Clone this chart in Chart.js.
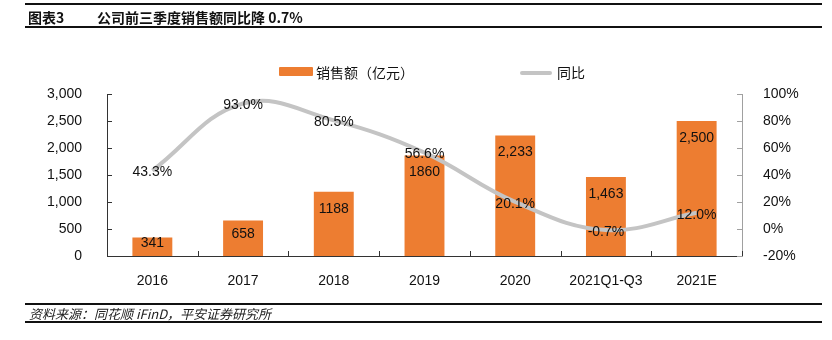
<!DOCTYPE html>
<html>
<head>
<meta charset="utf-8">
<script src="https://cdn.jsdelivr.net/npm/chart.js@4/dist/chart.umd.min.js"></script>
<style>
  body { margin: 0; background: #fff; }
  #wrap { position: relative; width: 832px; height: 340px; overflow: hidden; }
  #chart { position: absolute; left: 0; top: 0; }
  .rule { position: absolute; left: 25px; width: 797px; height: 0; border-top: 2px solid #111; }
  .head { position: absolute; top: 7px; left: 28px; font: bold 14px "Noto Sans CJK SC", sans-serif; color: #111; white-space: nowrap; }
  .head .no { display: inline-block; width: 69px; }
  .foot { position: absolute; top: 304px; left: 29px; font: italic 13px "Noto Sans CJK SC", sans-serif; color: #222; white-space: nowrap; }
  .lg { position: absolute; font: 14px "Noto Sans CJK SC", sans-serif; color: #111; white-space: nowrap; }
  .lg-box { position: absolute; left: 279px; top: 67px; width: 34px; height: 9px; background: #ed7d31; border-radius: 1px; }
  .lg-line { position: absolute; left: 520px; top: 71px; width: 32px; height: 4px; background: #c4c4c4; border-radius: 2px; }
</style>
</head>
<body>
<div id="wrap">
  <canvas id="chart" width="832" height="340"></canvas>
  <div class="rule" style="top:3px"></div>
  <div class="head"><span class="no">图表3</span>公司前三季度销售额同比降 0.7%</div>
  <div class="rule" style="top:26px"></div>
  <div class="lg-box"></div>
  <div class="lg" style="left:316px; top:62px">销售额（亿元）</div>
  <div class="lg-line"></div>
  <div class="lg" style="left:557px; top:62px">同比</div>
  <div class="rule" style="top:303px"></div>
  <div class="foot">资料来源：同花顺 iFinD，平安证券研究所</div>
  <div class="rule" style="top:321px"></div>
</div>
<script>
const years = ['2016', '2017', '2018', '2019', '2020', '2021Q1-Q3', '2021E'];
const sales = [341, 658, 1188, 1860, 2233, 1463, 2500];
const salesText = ['341', '658', '1188', '1860', '2,233', '1,463', '2,500'];
const growth = [43.3, 93.0, 80.5, 56.6, 20.1, -0.7, 12.0];

const labelFont = '14px "Liberation Sans", Arial, sans-serif';

// inward tick marks on all three axes, plus value labels
const marks = {
  id: 'marks',
  afterDatasetsDraw(chart) {
    const { ctx, chartArea: a, scales } = chart;
    ctx.save();
    ctx.lineWidth = 1;

    ctx.strokeStyle = '#333';
    scales.y.ticks.forEach((t, i) => {
      const py = Math.round(scales.y.getPixelForTick(i)) + 0.5;
      ctx.beginPath(); ctx.moveTo(a.left, py); ctx.lineTo(a.left + 5, py); ctx.stroke();
    });
    const step = (a.right - a.left) / years.length;
    for (let i = 1; i <= years.length; i++) {
      const px = Math.round(a.left + step * i) + 0.5;
      ctx.beginPath(); ctx.moveTo(px, a.bottom); ctx.lineTo(px, a.bottom - 5); ctx.stroke();
    }
    ctx.strokeStyle = '#a0a0a0';
    scales.y1.ticks.forEach((t, i) => {
      const py = Math.round(scales.y1.getPixelForTick(i)) + 0.5;
      ctx.beginPath(); ctx.moveTo(a.right, py); ctx.lineTo(a.right - 5, py); ctx.stroke();
    });

    ctx.font = labelFont;
    ctx.fillStyle = '#111';
    ctx.textAlign = 'center';
    ctx.textBaseline = 'middle';
    chart.getDatasetMeta(0).data.forEach((bar, i) => {
      const y = Math.min(bar.y + 17, (bar.y + bar.base) / 2 - 4);
      ctx.fillText(salesText[i], bar.x, y);
    });
    chart.getDatasetMeta(1).data.forEach((pt, i) => {
      ctx.fillText(growth[i].toFixed(1) + '%', pt.x, pt.y + 2);
    });
    ctx.restore();
  }
};

new Chart(document.getElementById('chart'), {
  data: {
    labels: years,
    datasets: [
      {
        type: 'bar',
        label: '销售额（亿元）',
        data: sales,
        backgroundColor: '#ed7d31',
        barPercentage: 0.88,
        categoryPercentage: 0.5,
        yAxisID: 'y',
        order: 1
      },
      {
        type: 'line',
        label: '同比',
        data: growth,
        borderColor: '#c4c4c4',
        borderWidth: 4,
        pointRadius: 0,
        tension: 0.4,
        yAxisID: 'y1',
        order: 0
      }
    ]
  },
  options: {
    responsive: false,
    animation: false,
    layout: { padding: { top: 94, left: 0, right: 0, bottom: 0 } },
    plugins: { legend: { display: false }, tooltip: { enabled: false } },
    scales: {
      x: {
        offset: true,
        grid: { display: false },
        border: { color: '#333', width: 1 },
        ticks: { color: '#111', font: { family: '"Liberation Sans", Arial, sans-serif', size: 14 }, padding: 9 },
        afterFit(s) { s.height = 84; }
      },
      y: {
        position: 'left',
        min: 0, max: 3000,
        grid: { display: false },
        border: { color: '#333', width: 1 },
        ticks: {
          stepSize: 500, padding: 17, color: '#111',
          font: { family: '"Liberation Sans", Arial, sans-serif', size: 14 },
          callback: v => v.toLocaleString('en-US')
        },
        afterFit(s) { s.width = 107; }
      },
      y1: {
        position: 'right',
        min: -20, max: 100,
        grid: { display: false },
        border: { color: '#a0a0a0', width: 1 },
        ticks: {
          stepSize: 20, padding: 13, color: '#111',
          font: { family: '"Liberation Sans", Arial, sans-serif', size: 14 },
          callback: v => v + '%'
        },
        afterFit(s) { s.width = 90; }
      }
    }
  },
  plugins: [marks]
});
</script>
</body>
</html>
